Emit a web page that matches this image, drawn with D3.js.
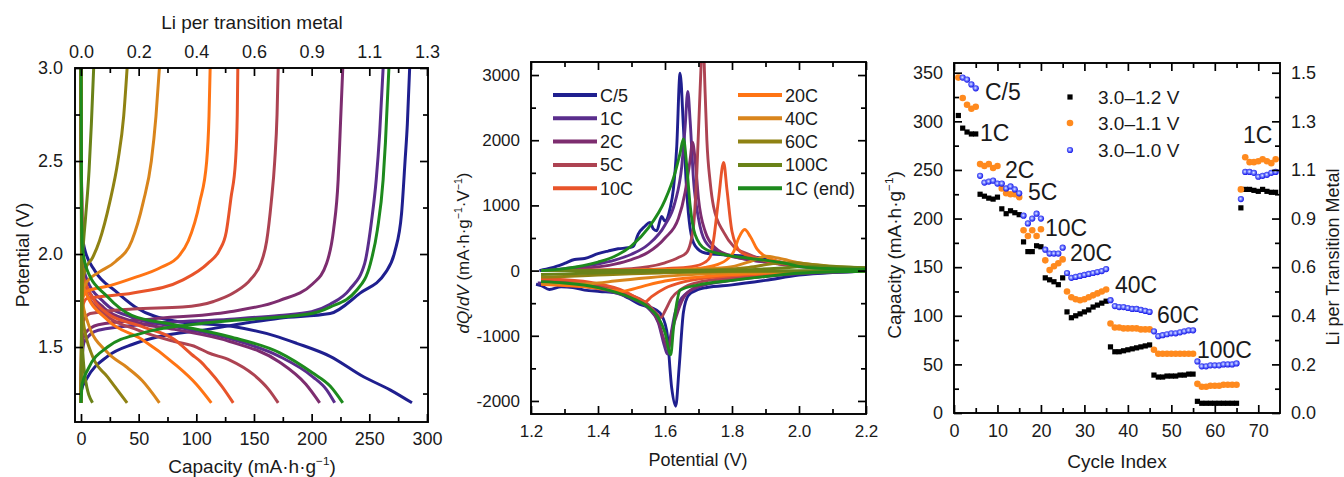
<!DOCTYPE html>
<html lang="en">
<head>
<meta charset="UTF-8">
<title>Rate capability</title>
<script src="https://cdn.jsdelivr.net/npm/d3@7"></script>
<style>
  body { margin: 0; background: #fff; }
  #mainsvg { display: block; }
</style>
</head>
<body>
<svg width="1344" height="477" id="mainsvg"></svg>
<script>
// ---------- shared ----------
const rateNames = ['C/5', '1C', '2C', '5C', '10C', '20C', '40C', '60C', '100C', '1C (end)'];
const rateColors = ['#1f1f8f', '#5a2d8c', '#7d2d6f', '#ad4352', '#e8542a', '#ff7414', '#d9851c', '#8f8213', '#6a8218', '#1d8a1d'];

// ---------- panel 1: galvanostatic curves [capacity mAh/g, potential V] ----------
const chgC5   = [[0,1.2],[0.5,1.27],[5,1.33],[23,1.45],[45,1.515],[67,1.555],[110,1.595],[144,1.63],[172,1.655],[216,1.68],[242,1.79],[264,1.9],[272,2.01],[278,2.22],[281,2.5],[283,2.7],[285,3.0]];
const chg1C   = [[0,1.2],[0.5,1.4],[3,1.53],[15,1.59],[60,1.625],[129,1.65],[172,1.67],[200,1.69],[216,1.73],[233,1.81],[246,1.95],[252,2.18],[256,2.4],[259,2.65],[262,3.0]];
const chg2C   = [[0,1.2],[0.5,1.45],[3,1.57],[15,1.62],[60,1.65],[129,1.69],[172,1.75],[201,1.84],[213,1.95],[219,2.13],[223,2.4],[225,2.7],[227,3.0]];
const chg5C   = [[0,1.2],[0.5,1.5],[2,1.64],[8,1.68],[45,1.705],[88,1.715],[115,1.745],[132,1.79],[148,1.87],[156,1.95],[161,2.07],[165,2.28],[168,2.5],[170,2.75],[171,3.0]];
const chg10C  = [[0,1.2],[0.5,1.55],[1.5,1.72],[5,1.76],[45,1.79],[88,1.86],[110,1.95],[120,2.02],[126,2.12],[130,2.3],[134,2.5],[135.5,2.75],[136,3.0]];
const chg20C  = [[0,1.2],[0.5,1.6],[1.5,1.76],[5,1.8],[25,1.83],[45,1.87],[70,1.93],[85,1.99],[93,2.07],[103,2.28],[109,2.5],[111,2.74],[112,3.0]];
const chg40C  = [[0,1.2],[0.5,1.6],[1.5,1.8],[5,1.85],[15,1.9],[30,1.96],[44,2.07],[54,2.28],[61,2.5],[65,2.74],[68,3.0]];
const chg60C  = [[0,1.2],[0.5,1.6],[1.5,1.85],[4,1.92],[10,1.98],[16,2.07],[25,2.28],[32,2.5],[37,2.74],[40,3.0]];
const chg100C = [[0,1.2],[0.5,1.7],[1,1.95],[2,2.05],[4,2.2],[7,2.45],[9,2.7],[11,3.0]];
const chgEnd  = [[0,1.2],[1,1.3],[6,1.38],[23,1.5],[53,1.575],[110,1.63],[170,1.66],[200,1.68],[216,1.715],[239,1.805],[251,1.95],[257,2.13],[262,2.4],[264,2.6],[267,3.0]];

const disC5   = [[0,3.0],[0.3,2.5],[1,2.12],[3,2.03],[12,1.91],[30,1.8],[47,1.715],[81,1.64],[132,1.61],[168,1.56],[187,1.52],[216,1.45],[245,1.34],[268,1.27],[287,1.2]];
const dis1C   = [[0,3.0],[0.3,2.5],[1,2.0],[4,1.88],[20,1.74],[44,1.66],[81,1.61],[129,1.545],[172,1.45],[201,1.34],[213,1.27],[220,1.2]];
const dis2C   = [[0,3.0],[0.3,2.5],[1,1.97],[4,1.84],[20,1.71],[44,1.64],[81,1.595],[129,1.53],[172,1.42],[195,1.3],[207,1.2]];
const dis5C   = [[0,3.0],[0.3,2.5],[1,1.93],[4,1.8],[20,1.68],[50,1.59],[81,1.53],[100,1.5],[110,1.47],[129,1.43],[150,1.35],[163,1.27],[171,1.2]];
const dis10C  = [[0,3.0],[0.3,2.5],[1,1.9],[3,1.86],[23,1.68],[53,1.61],[81,1.54],[96,1.46],[104,1.42],[110,1.38],[122,1.29],[132,1.2]];
const dis20C  = [[0,3.0],[0.3,2.5],[1,1.85],[3,1.81],[23,1.645],[53,1.54],[81,1.41],[100,1.3],[113,1.2]];
const dis40C  = [[0,3.0],[0.3,2.4],[0.8,1.77],[6,1.63],[23,1.47],[40,1.39],[53,1.32],[68,1.2]];
const dis60C  = [[0,3.0],[0.3,2.3],[1,1.68],[10,1.45],[23,1.34],[40,1.2]];
const dis100C = [[0,3.0],[0.3,2.2],[0.6,1.59],[3.5,1.34],[10,1.2]];
const disEnd  = [[0,3.0],[0.3,2.5],[1,2.05],[5,1.92],[23,1.77],[44,1.67],[81,1.62],[129,1.555],[172,1.47],[201,1.36],[216,1.29],[227,1.2]];

const capTicks = [0, 50, 100, 150, 200, 250, 300];
const liTickLabels = ['0.0', '0.2', '0.4', '0.6', '0.9', '1.1', '1.3'];
const potTicks = [1.5, 2.0, 2.5, 3.0];

// ---------- panel 2: dQ/dV [potential V, dQ/dV] ----------
const posC5   = [[1.225,0],[1.26,40],[1.3,110],[1.33,170],[1.36,185],[1.4,260],[1.43,300],[1.46,335],[1.49,350],[1.505,370],[1.52,560],[1.54,680],[1.555,740],[1.565,640],[1.575,610],[1.59,830],[1.6,760],[1.615,950],[1.625,1250],[1.635,1900],[1.645,3030],[1.655,2200],[1.665,1200],[1.675,650],[1.69,380],[1.72,270],[1.78,240],[1.85,220],[1.92,160],[2.0,70],[2.1,40],[2.2,30]];
const negC5   = [[1.215,-210],[1.23,-230],[1.255,-290],[1.29,-250],[1.325,-260],[1.36,-300],[1.405,-320],[1.455,-340],[1.49,-420],[1.525,-520],[1.56,-570],[1.585,-650],[1.605,-920],[1.62,-1800],[1.632,-2080],[1.642,-1500],[1.655,-640],[1.67,-380],[1.7,-290],[1.725,-260],[1.8,-220],[1.9,-150],[2.0,-70],[2.1,-30],[2.2,-10]];
const pos1C   = [[1.23,0],[1.3,30],[1.4,100],[1.45,160],[1.5,250],[1.55,400],[1.6,700],[1.63,1050],[1.65,1600],[1.66,2200],[1.668,2750],[1.675,2300],[1.685,1400],[1.7,800],[1.72,450],[1.76,280],[1.85,170],[1.95,100],[2.05,50],[2.2,25]];
const neg1C   = [[1.22,-190],[1.3,-210],[1.4,-280],[1.5,-430],[1.55,-580],[1.58,-800],[1.598,-1150],[1.607,-1280],[1.617,-1000],[1.63,-650],[1.65,-420],[1.7,-250],[1.8,-150],[1.9,-90],[2.0,-50],[2.2,-10]];
const pos2C   = [[1.23,0],[1.35,30],[1.45,100],[1.5,170],[1.55,280],[1.6,500],[1.64,800],[1.66,1200],[1.675,1700],[1.682,1970],[1.69,1700],[1.7,1100],[1.72,600],[1.75,350],[1.8,220],[1.9,130],[2.0,60],[2.2,25]];
const neg2C   = [[1.23,-170],[1.3,-190],[1.4,-250],[1.5,-400],[1.55,-550],[1.58,-780],[1.6,-1100],[1.61,-1200],[1.62,-950],[1.64,-600],[1.66,-380],[1.7,-240],[1.8,-140],[1.9,-80],[2.0,-40],[2.2,-10]];
const pos5C   = [[1.23,0],[1.4,10],[1.5,30],[1.55,60],[1.6,120],[1.64,200],[1.665,280],[1.685,680],[1.695,1500],[1.705,2800],[1.713,3600],[1.72,2700],[1.725,2000],[1.735,1350],[1.745,980],[1.775,590],[1.805,370],[1.85,250],[1.9,150],[2.0,75],[2.2,30]];
const neg5C   = [[1.23,-150],[1.3,-160],[1.4,-220],[1.5,-380],[1.55,-520],[1.575,-660],[1.588,-720],[1.6,-620],[1.62,-420],[1.65,-280],[1.7,-180],[1.8,-110],[1.9,-60],[2.0,-30],[2.2,-5]];
const pos10C  = [[1.23,0],[1.5,10],[1.6,30],[1.68,60],[1.72,130],[1.735,215],[1.745,470],[1.76,1100],[1.775,1660],[1.785,1240],[1.8,600],[1.825,290],[1.87,190],[1.95,110],[2.05,60],[2.2,30]];
const neg10C  = [[1.23,-130],[1.3,-140],[1.4,-200],[1.48,-320],[1.52,-430],[1.54,-480],[1.56,-400],[1.6,-270],[1.65,-180],[1.7,-130],[1.8,-80],[1.9,-50],[2.0,-25],[2.2,-5]];
const pos20C  = [[1.23,0],[1.5,5],[1.65,20],[1.72,50],[1.76,100],[1.785,170],[1.805,290],[1.82,500],[1.838,630],[1.855,520],[1.875,330],[1.92,170],[2.0,90],[2.1,50],[2.2,30]];
const neg20C  = [[1.23,-210],[1.3,-230],[1.38,-260],[1.44,-300],[1.47,-320],[1.5,-290],[1.55,-220],[1.6,-160],[1.7,-100],[1.8,-60],[1.9,-35],[2.0,-20],[2.2,-5]];
const pos40C  = [[1.23,0],[1.6,5],[1.7,20],[1.8,60],[1.86,150],[1.9,220],[1.94,190],[2.0,120],[2.1,60],[2.2,35]];
const neg40C  = [[1.23,-200],[1.3,-200],[1.35,-205],[1.4,-190],[1.45,-160],[1.55,-110],[1.65,-70],[1.8,-35],[2.0,-15],[2.2,-5]];
const pos60C  = [[1.23,0],[1.6,3],[1.75,15],[1.85,50],[1.93,110],[1.98,120],[2.05,90],[2.12,60],[2.2,40]];
const neg60C  = [[1.23,-100],[1.3,-90],[1.4,-70],[1.5,-50],[1.6,-35],[1.8,-15],[2.0,-8],[2.2,-3]];
const pos100C = [[1.23,0],[1.7,3],[1.85,15],[1.95,40],[2.03,65],[2.1,60],[2.2,45]];
const neg100C = [[1.23,-60],[1.3,-50],[1.45,-30],[1.6,-18],[1.8,-8],[2.2,-2]];
const posEnd  = [[1.23,0],[1.3,30],[1.4,130],[1.45,220],[1.5,380],[1.55,650],[1.6,1080],[1.63,1500],[1.645,1800],[1.655,2020],[1.665,1600],[1.675,1000],[1.69,550],[1.72,330],[1.78,240],[1.85,190],[1.95,120],[2.02,50],[2.1,30],[2.2,20]];
const negEnd  = [[1.23,-170],[1.3,-190],[1.4,-260],[1.5,-420],[1.55,-560],[1.58,-720],[1.6,-950],[1.617,-1290],[1.625,-900],[1.635,-500],[1.645,-300],[1.7,-220],[1.8,-150],[1.9,-90],[2.0,-40],[2.2,-10]];

const voltTicks = [1.2, 1.4, 1.6, 1.8, 2.0, 2.2];
const dqTicks = [-2000, -1000, 0, 1000, 2000, 3000];

// ---------- panel 3: rate test, capacity per cycle (null = no point) ----------
const cap12 = [306,293,289,287,287, 225,223,221,220,222, 210,205,208,206,204, 176,166,166,172,171, 139,137,135,132,139,
  104,98,100,102,104,106,109,111,113,115, 68,63,63,64,65,66,67,68,69,70, 39,37,37,38,38,38,39,39,40,40,
  12,10,10,10,10,10,10,10,10,10, 211,230,230,229,228,230,228,227,227];
const cap11 = [345,324,317,313,315, 256,254,256,252,254, 231,226,225,225,222, 188,182,188,182,189, 157,147,151,154,158,
  125,119,117,116,117,119,121,123,125,127, 92,88,88,87,87,87,87,86,86,86, 65,61,61,61,61,61,61,61,61,61,
  30,27,27,28,28,28,29,29,29,29, 230,263,258,258,259,261,259,257,261];
const cap10 = [null,345,343,338,334, 244,237,238,239,236, 236,231,233,230,226, 203,195,200,205,200, 168,164,164,164,170,
  144,139,140,141,142,143,144,145,146,148, 116,110,109,109,108,107,107,106,105,104, 84,79,80,81,82,82,83,84,85,85,
  53,48,48,49,49,49,50,50,50,51, 220,248,248,247,243,244,245,247,248];
const cycleTicks = [0, 10, 20, 30, 40, 50, 60, 70];
const capTicksR = [0, 50, 100, 150, 200, 250, 300, 350];
const liTicksR = ['0.0', '0.2', '0.4', '0.6', '0.9', '1.1', '1.3', '1.5'];
const windowNames = ['3.0\u20131.2 V', '3.0\u20131.1 V', '3.0\u20131.0 V'];
const rateLabels = [['C/5', 985, 100], ['1C', 980, 141], ['2C', 1005, 178], ['5C', 1028, 200], ['10C', 1045, 236],
  ['20C', 1070, 261], ['40C', 1115, 293], ['60C', 1157, 323], ['100C', 1197, 358], ['1C', 1243, 143]];

// ---------- helpers ----------
const FONT = '"Liberation Sans", Arial, Helvetica, sans-serif';
const svg = d3.select('#mainsvg');
const defs = svg.append('defs');

function axis(gen, scale, vals, len, labels, pad, fs, tr) {
    const a = gen(scale).tickValues(vals).tickSize(-len).tickPadding(pad)
        .tickFormat((d, i) => labels ? labels[i] : '');
    const s = svg.append('g').attr('transform', tr).call(a);
    s.select('.domain').remove();
    s.selectAll('line').attr('stroke', '#000').attr('stroke-width', 1.7);
    s.selectAll('text').attr('fill', '#1a1a1a').style('font-size', fs + 'px').style('font-family', FONT);
    return s;
}

function between(vals) {
    const out = [];
    for (let i = 0; i < vals.length - 1; i++) out.push((vals[i] + vals[i + 1]) / 2);
    return out;
}

function frame(x, y) {
    svg.append('rect')
        .attr('x', x.range()[0]).attr('y', y.range()[1])
        .attr('width', x.range()[1] - x.range()[0]).attr('height', y.range()[0] - y.range()[1])
        .attr('fill', 'none').attr('stroke', '#000').attr('stroke-width', 1.9);
}

function clip(id, x, y) {
    defs.append('clipPath').attr('id', id).append('rect')
        .attr('x', x.range()[0]).attr('y', y.range()[1])
        .attr('width', x.range()[1] - x.range()[0]).attr('height', y.range()[0] - y.range()[1]);
}

// text with italic / superscript parts
function richText(x, y, rot, parts, fs) {
    const t = svg.append('text')
        .attr('transform', `translate(${x},${y}) rotate(${rot})`)
        .attr('text-anchor', 'middle').attr('fill', '#1a1a1a')
        .style('font-size', fs + 'px').style('font-family', FONT);
    let shift = 0;
    parts.forEach(([s, k]) => {
        const want = k === 'sup' ? -fs * 0.4 : 0;
        const sp = t.append('tspan').text(s).attr('dy', want - shift);
        if (k === 'sup') sp.style('font-size', (fs * 0.62) + 'px');
        if (k === 'i') sp.style('font-style', 'italic');
        shift = want;
    });
    return t;
}

// ---------- panel 1 ----------
const x1 = d3.scaleLinear().domain([-5.2, 300.9]).range([75, 428]);
const y1 = d3.scaleLinear().domain([1.097, 3.0]).range([422, 68]);
clip('c1', x1, y1);
const line1 = d3.line().x(d => x1(d[0])).y(d => y1(d[1])).curve(d3.curveMonotoneX);
const charges = [chgC5, chg1C, chg2C, chg5C, chg10C, chg20C, chg40C, chg60C, chg100C, chgEnd];
const discharges = [disC5, dis1C, dis2C, dis5C, dis10C, dis20C, dis40C, dis60C, dis100C, disEnd];
const g1 = svg.append('g').attr('clip-path', 'url(#c1)');
charges.forEach((c, i) => {
    g1.append('path').attr('d', line1(c)).attr('fill', 'none').attr('stroke', rateColors[i]).attr('stroke-width', 3);
    g1.append('path').attr('d', line1(discharges[i])).attr('fill', 'none').attr('stroke', rateColors[i]).attr('stroke-width', 3);
});
axis(d3.axisBottom, x1, capTicks, 8, capTicks.map(String), 10, 18, `translate(0,${y1.range()[0]})`);
axis(d3.axisBottom, x1, between(capTicks), 5, null, 10, 18, `translate(0,${y1.range()[0]})`);
axis(d3.axisTop, x1, capTicks, 8, liTickLabels, 10, 18, `translate(0,${y1.range()[1]})`);
axis(d3.axisTop, x1, between(capTicks), 5, null, 10, 18, `translate(0,${y1.range()[1]})`);
axis(d3.axisLeft, y1, potTicks, 8, potTicks.map(d => d.toFixed(1)), 12, 18, `translate(${x1.range()[0]},0)`);
axis(d3.axisLeft, y1, [1.25, 1.75, 2.25, 2.75], 5, null, 12, 18, `translate(${x1.range()[0]},0)`);
axis(d3.axisRight, y1, potTicks, 8, null, 10, 18, `translate(${x1.range()[1]},0)`);
axis(d3.axisRight, y1, [1.25, 1.75, 2.25, 2.75], 5, null, 10, 18, `translate(${x1.range()[1]},0)`);
frame(x1, y1);
richText(252, 29, 0, [['Li per transition metal', 'n']], 19);
richText(252, 473, 0, [['Capacity (mA\u00b7h\u00b7g', 'n'], ['\u22121', 'sup'], [')', 'n']], 19);
richText(29, 255, -90, [['Potential (V)', 'n']], 19);

// ---------- panel 2 ----------
const x2 = d3.scaleLinear().domain([1.2, 2.2]).range([531, 866]);
const y2 = d3.scaleLinear().domain([-2200, 3200]).range([414, 62]);
clip('c2', x2, y2);
const line2 = d3.line().x(d => x2(d[0])).y(d => y2(d[1])).curve(d3.curveMonotoneX);
const positives = [posC5, pos1C, pos2C, pos5C, pos10C, pos20C, pos40C, pos60C, pos100C, posEnd];
const negatives = [negC5, neg1C, neg2C, neg5C, neg10C, neg20C, neg40C, neg60C, neg100C, negEnd];
const g2 = svg.append('g').attr('clip-path', 'url(#c2)');
positives.forEach((p, i) => {
    g2.append('path').attr('d', line2(p)).attr('fill', 'none').attr('stroke', rateColors[i]).attr('stroke-width', 2.9);
    g2.append('path').attr('d', line2(negatives[i])).attr('fill', 'none').attr('stroke', rateColors[i]).attr('stroke-width', 2.9);
});
axis(d3.axisBottom, x2, voltTicks, 8, voltTicks.map(d => d.toFixed(1)), 11, 17, `translate(0,${y2.range()[0]})`);
axis(d3.axisBottom, x2, between(voltTicks), 5, null, 11, 17, `translate(0,${y2.range()[0]})`);
axis(d3.axisTop, x2, voltTicks, 8, null, 10, 17, `translate(0,${y2.range()[1]})`);
axis(d3.axisTop, x2, between(voltTicks), 5, null, 10, 17, `translate(0,${y2.range()[1]})`);
axis(d3.axisLeft, y2, dqTicks, 8, dqTicks.map(String), 11, 17, `translate(${x2.range()[0]},0)`);
axis(d3.axisLeft, y2, between(dqTicks), 5, null, 11, 17, `translate(${x2.range()[0]},0)`);
axis(d3.axisRight, y2, dqTicks, 8, null, 10, 17, `translate(${x2.range()[1]},0)`);
axis(d3.axisRight, y2, between(dqTicks), 5, null, 10, 17, `translate(${x2.range()[1]},0)`);
frame(x2, y2);

// legend, two columns of five
rateNames.forEach((name, i) => {
    const col = i < 5 ? 0 : 1;
    const row = i % 5;
    const lx = col === 0 ? 553 : 738;
    const ly = 95 + row * 23.3;
    svg.append('line').attr('x1', lx).attr('x2', lx + 44).attr('y1', ly).attr('y2', ly)
        .attr('stroke', rateColors[i]).attr('stroke-width', 4);
    svg.append('text').attr('x', lx + 47).attr('y', ly + 6.5).text(name)
        .attr('fill', '#1a1a1a').style('font-size', '18px').style('font-family', FONT);
});
richText(698, 466, 0, [['Potential (V)', 'n']], 18);
richText(469, 253, -90, [['dQ', 'i'], ['/', 'n'], ['dV', 'i'], [' (mA\u00b7h\u00b7g', 'n'], ['\u22121', 'sup'], ['\u00b7V', 'n'], ['\u22121', 'sup'], [')', 'n']], 17);

// ---------- panel 3 ----------
const x3 = d3.scaleLinear().domain([0, 75]).range([954, 1280]);
const y3 = d3.scaleLinear().domain([0, 360]).range([413, 63]);
clip('c3', x3, y3);

const grad = defs.append('radialGradient').attr('id', 'ball').attr('cx', '45%').attr('cy', '45%').attr('r', '55%');
grad.append('stop').attr('offset', '0%').attr('stop-color', '#e6ecff');
grad.append('stop').attr('offset', '45%').attr('stop-color', '#6f7cff');
grad.append('stop').attr('offset', '100%').attr('stop-color', '#1010e6');

const g3 = svg.append('g').attr('clip-path', 'url(#c3)');
const pts = s => s.map((v, i) => [i + 1, v]).filter(d => d[1] !== null);
g3.selectAll('rect.s12').data(pts(cap12)).join('rect').attr('class', 's12')
    .attr('x', d => x3(d[0]) - 2.6).attr('y', d => y3(d[1]) - 2.6).attr('width', 5.2).attr('height', 5.2).attr('fill', '#000');
g3.selectAll('circle.s11').data(pts(cap11)).join('circle').attr('class', 's11')
    .attr('cx', d => x3(d[0])).attr('cy', d => y3(d[1])).attr('r', 3.3).attr('fill', '#ff8a1e');
g3.selectAll('circle.s10').data(pts(cap10)).join('circle').attr('class', 's10')
    .attr('cx', d => x3(d[0])).attr('cy', d => y3(d[1])).attr('r', 3.1).attr('fill', 'url(#ball)');

axis(d3.axisBottom, x3, cycleTicks, 8, cycleTicks.map(String), 11, 18, `translate(0,${y3.range()[0]})`);
axis(d3.axisBottom, x3, between(cycleTicks), 5, null, 11, 18, `translate(0,${y3.range()[0]})`);
axis(d3.axisTop, x3, cycleTicks, 8, null, 10, 18, `translate(0,${y3.range()[1]})`);
axis(d3.axisTop, x3, between(cycleTicks), 5, null, 10, 18, `translate(0,${y3.range()[1]})`);
axis(d3.axisLeft, y3, capTicksR, 8, capTicksR.map(String), 11, 18, `translate(${x3.range()[0]},0)`);
axis(d3.axisLeft, y3, between(capTicksR), 5, null, 11, 18, `translate(${x3.range()[0]},0)`);
axis(d3.axisRight, y3, capTicksR, 8, liTicksR, 11, 18, `translate(${x3.range()[1]},0)`);
axis(d3.axisRight, y3, between(capTicksR), 5, null, 11, 18, `translate(${x3.range()[1]},0)`);
frame(x3, y3);

// legend
const legY = [97, 123, 150];
svg.append('rect').attr('x', 1067.4).attr('y', legY[0] - 2.6).attr('width', 5.2).attr('height', 5.2).attr('fill', '#000');
svg.append('circle').attr('cx', 1070).attr('cy', legY[1]).attr('r', 3.3).attr('fill', '#ff8a1e');
svg.append('circle').attr('cx', 1070).attr('cy', legY[2]).attr('r', 3.1).attr('fill', 'url(#ball)');
windowNames.forEach((n, i) => {
    svg.append('text').attr('x', 1098).attr('y', legY[i] + 7).text(n)
        .attr('fill', '#1a1a1a').style('font-size', '19px').style('font-family', FONT);
});
rateLabels.forEach(([t, lx, ly]) => {
    svg.append('text').attr('x', lx).attr('y', ly).text(t)
        .attr('fill', '#1a1a1a').style('font-size', '23px').style('font-family', FONT);
});
richText(1117, 468, 0, [['Cycle Index', 'n']], 19);
richText(901, 255, -90, [['Capacity (mA\u00b7h\u00b7g', 'n'], ['\u22121', 'sup'], [')', 'n']], 19);
richText(1339, 257, -90, [['Li per Transition Metal', 'n']], 18);
</script>
</body>
</html>
